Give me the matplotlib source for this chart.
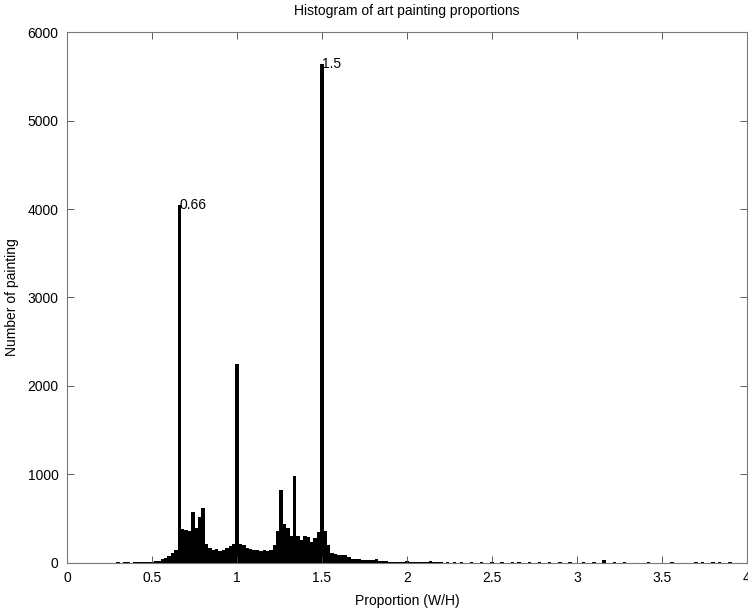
import numpy as np
import matplotlib
matplotlib.use('Agg')
import matplotlib.pyplot as plt
from matplotlib.ticker import FormatStrFormatter

plt.rcParams['font.family'] = ['Liberation Sans', 'DejaVu Sans']

# histogram bins of width 0.02, centres from 0.30 to 2.20
bin_width = 0.02
main_centers = np.round(np.arange(0.30, 2.21, bin_width), 2)
main_counts = [
    12, 0, 10, 12, 0, 14, 12, 10, 14, 12,         # 0.30 - 0.48
    14, 18, 25, 40, 55, 80, 110, 150, 4040, 380,  # 0.50 - 0.68
    370, 365, 580, 400, 520, 620, 220, 170, 150, 160,  # 0.70 - 0.88
    140, 150, 170, 190, 220, 2250, 220, 200, 170, 160,  # 0.90 - 1.08
    150, 145, 140, 150, 140, 150, 200, 360, 820, 440,  # 1.10 - 1.28
    400, 300, 980, 310, 260, 300, 290, 240, 280, 350,  # 1.30 - 1.48
    5640, 360, 200, 110, 100, 95, 90, 85, 65, 50,   # 1.50 - 1.68
    50, 40, 35, 35, 35, 30, 40, 20, 20, 18,        # 1.70 - 1.88
    15, 15, 14, 12, 14, 25, 12, 10, 14, 10,        # 1.90 - 2.08
    10, 12, 25, 12, 10, 10,                        # 2.10 - 2.20
]

# sparse tail beyond 2.2
tail_centers = [2.24, 2.28, 2.32, 2.38, 2.44, 2.50, 2.56, 2.62, 2.66, 2.72,
                2.78, 2.84, 2.90, 2.96, 3.04, 3.10, 3.16, 3.22, 3.28, 3.42,
                3.56, 3.70, 3.74, 3.80, 3.84, 3.90]
tail_counts = [10, 12, 10, 12, 10, 12, 10, 12, 10, 12,
               10, 12, 10, 12, 10, 12, 30, 12, 10, 10,
               10, 12, 10, 12, 10, 12]

peak_labels = [(0.66, 4040, '0.66'), (1.50, 5640, '1.5')]

centers = np.concatenate([main_centers, tail_centers])
counts = np.concatenate([main_counts, tail_counts])

fig = plt.figure(figsize=(7.48, 6.11), dpi=100)
ax = fig.add_axes([0.0896, 0.0786, 0.909, 0.869])

ax.bar(centers, counts, width=bin_width, color='black', linewidth=0)

for x, y, s in peak_labels:
    ax.text(x, y, s, ha='left', va='center', fontsize=10)

ax.set_xlim(0, 4)
ax.set_ylim(0, 6000)
ax.set_xticks(np.arange(0, 4.01, 0.5))
ax.set_yticks(np.arange(0, 6001, 1000))
ax.xaxis.set_major_formatter(FormatStrFormatter('%g'))
ax.tick_params(direction='in', top=True, right=True, labelsize=10, length=5,
               width=0.6, color='#444444', pad=6)
for sp in ax.spines.values():
    sp.set_color('#777777')
    sp.set_linewidth(0.8)

ax.set_title('Histogram of art painting proportions', fontsize=10, pad=12)
ax.set_xlabel('Proportion (W/H)', fontsize=10, labelpad=6)
ax.set_ylabel('Number of painting', fontsize=10, labelpad=6)

fig.savefig('out.png', dpi=100)
